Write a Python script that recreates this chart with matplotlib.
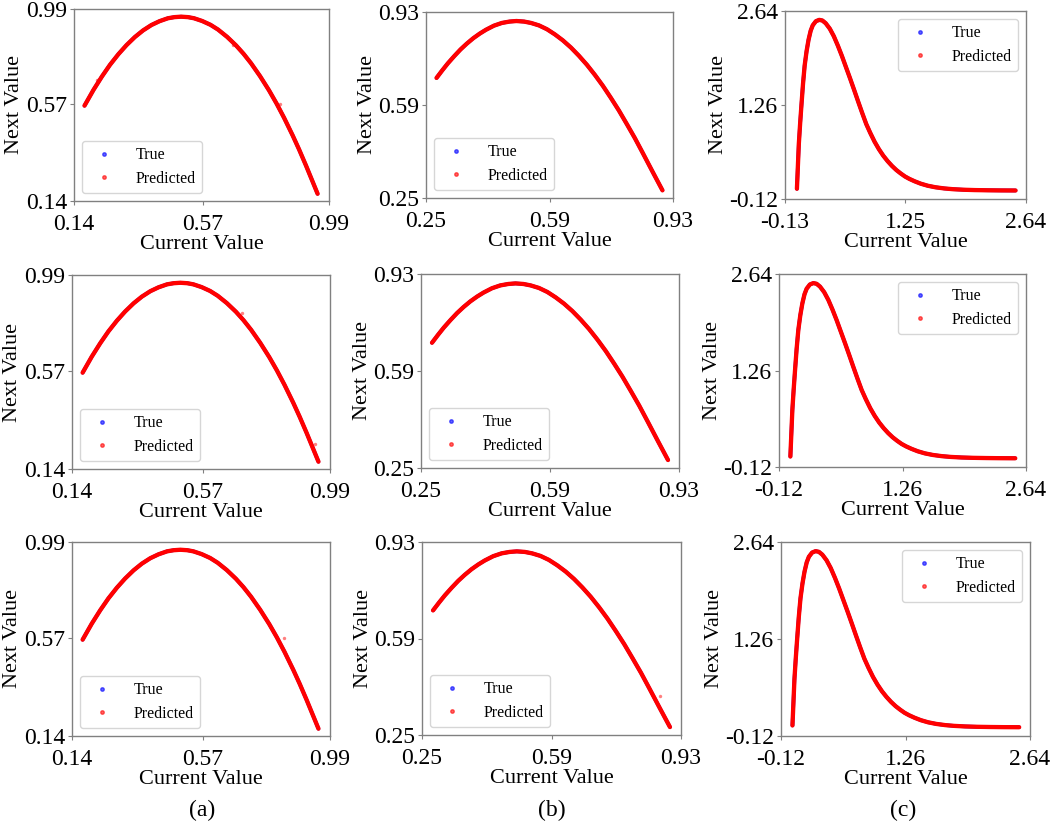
import matplotlib.pyplot as plt
from matplotlib.lines import Line2D

plt.rcParams["font.family"] = ["Liberation Serif", "DejaVu Serif"]
plt.rcParams["axes.unicode_minus"] = False

# (a) 曲線上の点
a_x = [0.175, 0.205, 0.233, 0.26, 0.288, 0.315, 0.343, 0.37, 0.398, 0.425, 0.453,
       0.475, 0.497, 0.52, 0.540, 0.567, 0.595, 0.62, 0.650, 0.68, 0.705, 0.73,
       0.760, 0.79, 0.815, 0.84, 0.869, 0.89, 0.913, 0.935, 0.952]
a_y = [0.562, 0.632, 0.691, 0.743, 0.790, 0.830, 0.866, 0.895, 0.919, 0.936, 0.949,
       0.954, 0.956, 0.954, 0.949, 0.937, 0.920, 0.899, 0.867, 0.829, 0.792, 0.750,
       0.693, 0.630, 0.572, 0.509, 0.430, 0.369, 0.298, 0.227, 0.172]
a_out_x = [[0.217, 0.827, 0.67], [0.70, 0.94], [0.838]]
a_out_y = [[0.676, 0.57, 0.83], [0.823, 0.25], [0.57]]

# (b)
b_x = [0.279, 0.295, 0.310, 0.328, 0.345, 0.362, 0.380, 0.398, 0.415, 0.437, 0.459,
       0.480, 0.499, 0.520, 0.539, 0.561, 0.583, 0.605, 0.627, 0.649, 0.671, 0.693,
       0.715, 0.737, 0.759, 0.781, 0.803, 0.825, 0.847, 0.875, 0.901]
b_y = [0.689, 0.717, 0.742, 0.769, 0.793, 0.814, 0.834, 0.851, 0.865, 0.880, 0.890,
       0.895, 0.897, 0.895, 0.890, 0.881, 0.867, 0.848, 0.826, 0.800, 0.770, 0.737,
       0.700, 0.660, 0.616, 0.570, 0.520, 0.469, 0.414, 0.343, 0.278]
b_out_x = [[], [], [0.875]]
b_out_y = [[], [], [0.387]]

# (c)
c_x = [0.007, 0.018, 0.029, 0.044, 0.059, 0.077, 0.096, 0.118, 0.141, 0.165, 0.189,
       0.225, 0.264, 0.300, 0.338, 0.385, 0.431, 0.478, 0.524, 0.571, 0.618, 0.665,
       0.711, 0.758, 0.804, 0.850, 0.900, 0.950, 1.000, 1.050, 1.100, 1.150, 1.200,
       1.250, 1.300, 1.360, 1.430, 1.510, 1.600, 1.700, 1.800, 1.920, 2.050, 2.200,
       2.350, 2.520]
c_y = [0.030, 0.360, 0.690, 0.990, 1.260, 1.570, 1.840, 2.050, 2.220, 2.350, 2.430,
       2.490, 2.510, 2.500, 2.460, 2.380, 2.270, 2.130, 1.980, 1.815, 1.650, 1.480,
       1.310, 1.140, 0.980, 0.850, 0.720, 0.610, 0.515, 0.435, 0.365, 0.305, 0.255,
       0.210, 0.175, 0.140, 0.105, 0.075, 0.052, 0.035, 0.024, 0.016, 0.011, 0.008,
       0.006, 0.005]
c_out_x = [[], [], []]
c_out_y = [[], [], []]

# 目盛りラベル
a_ticks = ["0.14", "0.57", "0.99"]
b_ticks = ["0.25", "0.59", "0.93"]
c_xticks = [["-0.13", "1.25", "2.64"], ["-0.12", "1.26", "2.64"], ["-0.12", "1.26", "2.64"]]
c_yticks = ["-0.12", "1.26", "2.64"]

columns = [
    (a_x, a_y, a_out_x, a_out_y, [a_ticks] * 3, [a_ticks] * 3, "lower left"),
    (b_x, b_y, b_out_x, b_out_y, [b_ticks] * 3, [b_ticks] * 3, "lower left"),
    (c_x, c_y, c_out_x, c_out_y, c_xticks, [c_yticks] * 3, "upper right"),
]

# 各パネルの位置（ピクセル: 左, 上, 右, 下）
rects = [
    [(74, 9, 329, 201), (72, 275, 330, 469), (72, 542, 330, 736)],
    [(426, 12, 673, 198), (421, 274, 679, 468), (422, 542, 681, 735)],
    [(785, 11, 1026, 199), (779, 274, 1026, 467), (781, 542, 1030, 736)],
]
panel_labels = ["(a)", "(b)", "(c)"]
label_x = [202, 552, 903]

W, H = 1052, 831
fig = plt.figure(figsize=(W / 100, H / 100), dpi=100)

spine_color = "#808080"
handles = [
    Line2D([], [], ls="", marker="o", markersize=2.5, color="blue", alpha=0.6, label="True"),
    Line2D([], [], ls="", marker="o", markersize=2.5, color="red", alpha=0.6, label="Predicted"),
]

for ci, (xs, ys, ox, oy, xtl, ytl, loc) in enumerate(columns):
    for ri in range(3):
        l, t, r, b = rects[ci][ri]
        ax = fig.add_axes([l / W, 1 - b / H, (r - l) / W, (b - t) / H])
        ax.plot(xs, ys, color="blue", lw=2.6, solid_capstyle="round")
        ax.plot(xs, ys, color="red", lw=3.1, solid_capstyle="round")
        if ox[ri]:
            ax.scatter(ox[ri], oy[ri], s=6, color="red", alpha=0.5, lw=0)

        xt = [float(v) for v in xtl[ri]]
        yt = [float(v) for v in ytl[ri]]
        ax.set_xlim(xt[0], xt[-1])
        ax.set_ylim(yt[0], yt[-1])
        ax.set_xticks(xt)
        ax.set_yticks(yt)
        ax.set_xticklabels(xtl[ri])
        ax.set_yticklabels(ytl[ri])
        ax.tick_params(labelsize=17, color=spine_color, length=3, width=0.8)
        ax.tick_params(axis="x", pad=6.5)
        ax.tick_params(axis="y", pad=2)
        for s in ax.spines.values():
            s.set_color(spine_color)
            s.set_linewidth(1.0)
        ax.set_xlabel("Current Value", fontsize=16, labelpad=0)
        ax.set_ylabel("Next Value", fontsize=16, labelpad=1)
        ax.legend(handles=handles, loc=loc, fontsize=11.5, handletextpad=0.95,
                  labelspacing=0.45)

    fig.text(label_x[ci] / W, 1 - 810 / H, panel_labels[ci], fontsize=17,
             ha="center", va="center")

fig.savefig("out.png", dpi=100)
